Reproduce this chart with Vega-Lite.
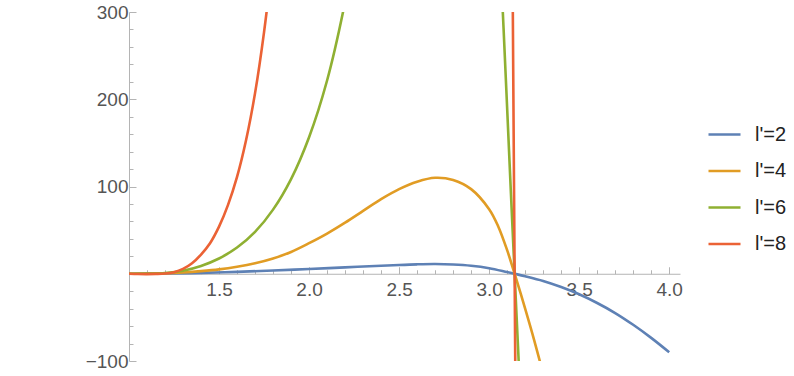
{
  "$schema": "https://vega.github.io/schema/vega-lite/v6.json",
  "width": 551,
  "height": 349,
  "autosize": {"type": "none"},
  "padding": {"left": 129, "top": 12, "right": 114, "bottom": 15},
  "background": "white",
  "config": {"view": {"stroke": null}},
  "data": {
    "values": [
      {"s": "l'=2", "x": 1.0, "y": 0},
      {"s": "l'=2", "x": 1.2, "y": 0.3},
      {"s": "l'=2", "x": 1.4, "y": 1.0},
      {"s": "l'=2", "x": 1.6, "y": 2.2},
      {"s": "l'=2", "x": 1.8, "y": 3.7},
      {"s": "l'=2", "x": 2.0, "y": 5.4},
      {"s": "l'=2", "x": 2.2, "y": 7.3},
      {"s": "l'=2", "x": 2.4, "y": 9.2},
      {"s": "l'=2", "x": 2.5, "y": 10.1},
      {"s": "l'=2", "x": 2.6, "y": 10.8},
      {"s": "l'=2", "x": 2.7, "y": 11.1},
      {"s": "l'=2", "x": 2.8, "y": 10.6},
      {"s": "l'=2", "x": 2.9, "y": 9.2},
      {"s": "l'=2", "x": 3.0, "y": 6.4},
      {"s": "l'=2", "x": 3.1, "y": 1.9},
      {"s": "l'=2", "x": 3.1416, "y": 0},
      {"s": "l'=2", "x": 3.2, "y": -2.8},
      {"s": "l'=2", "x": 3.3, "y": -8.2},
      {"s": "l'=2", "x": 3.4, "y": -15.2},
      {"s": "l'=2", "x": 3.5, "y": -23.5},
      {"s": "l'=2", "x": 3.6, "y": -33.5},
      {"s": "l'=2", "x": 3.7, "y": -45},
      {"s": "l'=2", "x": 3.8, "y": -58.5},
      {"s": "l'=2", "x": 3.9, "y": -73.5},
      {"s": "l'=2", "x": 4.0, "y": -90},

      {"s": "l'=4", "x": 1.0, "y": 0},
      {"s": "l'=4", "x": 1.1, "y": 0},
      {"s": "l'=4", "x": 1.2, "y": 0.5},
      {"s": "l'=4", "x": 1.3, "y": 1.5},
      {"s": "l'=4", "x": 1.4, "y": 3},
      {"s": "l'=4", "x": 1.5, "y": 5},
      {"s": "l'=4", "x": 1.6, "y": 8},
      {"s": "l'=4", "x": 1.7, "y": 12},
      {"s": "l'=4", "x": 1.8, "y": 17.5},
      {"s": "l'=4", "x": 1.9, "y": 25},
      {"s": "l'=4", "x": 2.0, "y": 35},
      {"s": "l'=4", "x": 2.1, "y": 46},
      {"s": "l'=4", "x": 2.2, "y": 58.5},
      {"s": "l'=4", "x": 2.3, "y": 72},
      {"s": "l'=4", "x": 2.4, "y": 85.5},
      {"s": "l'=4", "x": 2.5, "y": 97},
      {"s": "l'=4", "x": 2.6, "y": 105.5},
      {"s": "l'=4", "x": 2.7, "y": 110},
      {"s": "l'=4", "x": 2.8, "y": 107.5},
      {"s": "l'=4", "x": 2.9, "y": 97},
      {"s": "l'=4", "x": 3.0, "y": 74},
      {"s": "l'=4", "x": 3.05, "y": 54.5},
      {"s": "l'=4", "x": 3.1, "y": 27},
      {"s": "l'=4", "x": 3.1416, "y": 0},
      {"s": "l'=4", "x": 3.2, "y": -40},
      {"s": "l'=4", "x": 3.25, "y": -76},
      {"s": "l'=4", "x": 3.3, "y": -115},
      {"s": "l'=4", "x": 3.35, "y": -158},

      {"s": "l'=6", "x": 1.0, "y": 0},
      {"s": "l'=6", "x": 1.1, "y": 0.1},
      {"s": "l'=6", "x": 1.2, "y": 0.8},
      {"s": "l'=6", "x": 1.3, "y": 3.5},
      {"s": "l'=6", "x": 1.4, "y": 9},
      {"s": "l'=6", "x": 1.5, "y": 17.5},
      {"s": "l'=6", "x": 1.6, "y": 30},
      {"s": "l'=6", "x": 1.7, "y": 48},
      {"s": "l'=6", "x": 1.8, "y": 73.5},
      {"s": "l'=6", "x": 1.9, "y": 108.5},
      {"s": "l'=6", "x": 2.0, "y": 156.5},
      {"s": "l'=6", "x": 2.1, "y": 221.5},
      {"s": "l'=6", "x": 2.2, "y": 311.5},
      {"s": "l'=6", "x": 2.25, "y": 370},
      {"s": "l'=6", "x": 2.3, "y": 435},
      {"s": "l'=6", "x": 2.5, "y": 800},
      {"s": "l'=6", "x": 2.8, "y": 1200},
      {"s": "l'=6", "x": 3.0, "y": 650},
      {"s": "l'=6", "x": 3.04, "y": 460},
      {"s": "l'=6", "x": 3.06, "y": 370},
      {"s": "l'=6", "x": 3.08, "y": 282},
      {"s": "l'=6", "x": 3.1, "y": 190},
      {"s": "l'=6", "x": 3.12, "y": 97},
      {"s": "l'=6", "x": 3.1416, "y": 0},
      {"s": "l'=6", "x": 3.16, "y": -82},
      {"s": "l'=6", "x": 3.18, "y": -168},
      {"s": "l'=6", "x": 3.3, "y": -600},

      {"s": "l'=8", "x": 1.0, "y": 0},
      {"s": "l'=8", "x": 1.05, "y": -0.3},
      {"s": "l'=8", "x": 1.1, "y": -0.4},
      {"s": "l'=8", "x": 1.15, "y": -0.2},
      {"s": "l'=8", "x": 1.2, "y": 0.3},
      {"s": "l'=8", "x": 1.25, "y": 1.8},
      {"s": "l'=8", "x": 1.3, "y": 5.5},
      {"s": "l'=8", "x": 1.35, "y": 12},
      {"s": "l'=8", "x": 1.4, "y": 22},
      {"s": "l'=8", "x": 1.45, "y": 35},
      {"s": "l'=8", "x": 1.5, "y": 54},
      {"s": "l'=8", "x": 1.55, "y": 79},
      {"s": "l'=8", "x": 1.6, "y": 111},
      {"s": "l'=8", "x": 1.65, "y": 153},
      {"s": "l'=8", "x": 1.7, "y": 207},
      {"s": "l'=8", "x": 1.75, "y": 277},
      {"s": "l'=8", "x": 1.8, "y": 365},
      {"s": "l'=8", "x": 1.85, "y": 470},
      {"s": "l'=8", "x": 1.9, "y": 600},
      {"s": "l'=8", "x": 2.2, "y": 2000},
      {"s": "l'=8", "x": 2.8, "y": 4000},
      {"s": "l'=8", "x": 3.1, "y": 1200},
      {"s": "l'=8", "x": 3.12, "y": 700},
      {"s": "l'=8", "x": 3.13, "y": 350},
      {"s": "l'=8", "x": 3.1416, "y": 0},
      {"s": "l'=8", "x": 3.155, "y": -400},
      {"s": "l'=8", "x": 3.2, "y": -2000}
    ]
  },
  "mark": {"type": "line", "clip": true, "interpolate": "catmull-rom", "strokeWidth": 2.6},
  "encoding": {
    "x": {
      "field": "x",
      "type": "quantitative",
      "scale": {"domain": [1, 4.06], "nice": false, "zero": false},
      "axis": {
        "title": null,
        "grid": false,
        "values": [1.1, 1.2, 1.3, 1.4, 1.5, 1.6, 1.7, 1.8, 1.9, 2.0, 2.1, 2.2, 2.3, 2.4, 2.5, 2.6, 2.7, 2.8, 2.9, 3.0, 3.1, 3.2, 3.3, 3.4, 3.5, 3.6, 3.7, 3.8, 3.9, 4.0],
        "offset": -87.25,
        "domainColor": "#b4b4b4",
        "tickColor": "#b4b4b4",
        "tickSize": {"condition": {"test": "round(datum.value*10) % 5 == 0", "value": -7}, "value": -4},
        "labelExpr": "round(datum.value*10) % 5 == 0 ? format(datum.value, '.1f') : ''",
        "labelPadding": 14,
        "labelFont": "Liberation Sans",
        "labelFontSize": 19,
        "labelColor": "#555555",
        "labelFlush": false,
        "labelOverlap": false
      }
    },
    "y": {
      "field": "y",
      "type": "quantitative",
      "scale": {"domain": [-100, 300], "nice": false, "zero": false},
      "axis": {
        "title": null,
        "grid": false,
        "values": [-100, -80, -60, -40, -20, 0, 20, 40, 60, 80, 100, 120, 140, 160, 180, 200, 220, 240, 260, 280, 300],
        "domainColor": "#b4b4b4",
        "tickColor": "#b4b4b4",
        "tickSize": {"condition": {"test": "datum.value % 100 == 0", "value": -7}, "value": -4},
        "labelExpr": "datum.value % 100 == 0 && datum.value != 0 ? datum.label : ''",
        "labelPadding": 8,
        "labelFont": "Liberation Sans",
        "labelFontSize": 19,
        "labelColor": "#555555",
        "labelFlush": false,
        "labelOverlap": false
      }
    },
    "color": {
      "field": "s",
      "type": "nominal",
      "scale": {"domain": ["l'=2", "l'=4", "l'=6", "l'=8"], "range": ["#5E81B5", "#E19C24", "#8FB032", "#EB6235"]},
      "legend": {
        "orient": "none",
        "legendX": 578,
        "legendY": 105,
        "title": null,
        "padding": 0,
        "symbolType": "stroke",
        "symbolSize": 1024,
        "symbolStrokeWidth": 2.6,
        "labelFont": "Liberation Sans",
        "labelFontSize": 20,
        "labelColor": "#222222",
        "labelOffset": 13,
        "rowPadding": 8.5
      }
    }
  }
}
